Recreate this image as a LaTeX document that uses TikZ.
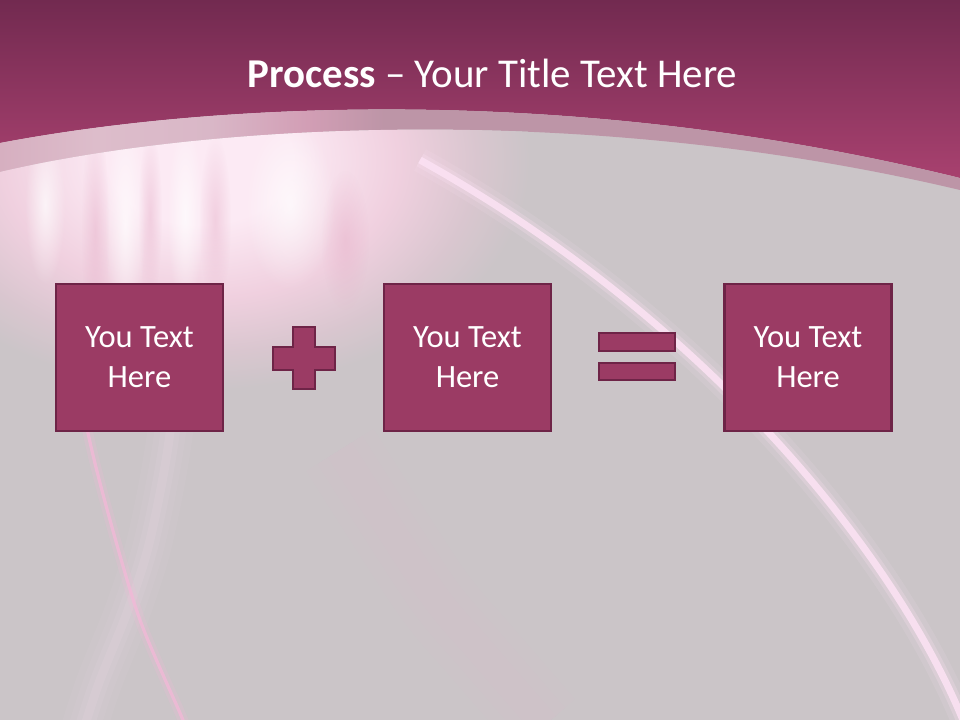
\documentclass[tikz,border=0pt]{standalone}
\usepackage{fontspec}
\setmainfont{Carlito}
\usetikzlibrary{fadings}
\definecolor{bandtop}{HTML}{722A50}
\definecolor{bandbot}{HTML}{A8416F}
\definecolor{slide}{HTML}{CBC5C8}
\definecolor{boxfill}{HTML}{9B3B64}
\definecolor{boxline}{HTML}{6E2447}
\definecolor{streak}{HTML}{FCE2F4}
\definecolor{rose}{HTML}{F4B8D8}
\definecolor{blush}{HTML}{F0D0DF}
\definecolor{dusk}{HTML}{D9C6CF}
\definecolor{shine}{HTML}{FCEAF4}
\definecolor{pinkray}{HTML}{E6AFC8}
\definecolor{stripa}{HTML}{D6AFC0}
\definecolor{stripb}{HTML}{DDBDCB}
\definecolor{stripc}{HTML}{D9B7C7}
\definecolor{stripd}{HTML}{D29EB5}
\definecolor{stripe}{HTML}{BD95A7}
\pgfdeclareradialshading{glowshade}{\pgfpoint{0bp}{0bp}}{color(0bp)=(shine);
  color(7bp)=(shine); color(15bp)=(blush); color(21bp)=(dusk); color(25bp)=(slide);
  color(50bp)=(slide)}
\pgfdeclarehorizontalshading{stripshade}{100bp}{color(0bp)=(stripa);
  color(25bp)=(stripa); color(30bp)=(stripb); color(36bp)=(stripc);
  color(41bp)=(stripd); color(45bp)=(stripe); color(100bp)=(stripe)}
\tikzfading[name=soft,inner color=transparent!0,outer color=transparent!100]

\begin{document}
\begin{tikzpicture}[x=0.2mm,y=-0.2mm,
  textbox/.style={draw=boxline,fill=boxfill,line width=1.4pt,
    minimum width=3.34cm,minimum height=2.94cm,inner sep=0pt,
    text=white,align=center,font=\fontsize{18.5}{22.8}\selectfont},
  eqbar/.style={draw=boxline,fill=boxfill,line width=1.4pt,
    minimum width=1.51cm,minimum height=0.35cm,inner sep=0pt},
  sign/.style={draw=boxline,fill=boxfill,line width=1.4pt}]
\useasboundingbox (0,0) rectangle (960,720);
\fill[slide] (0,0) rectangle (960,720);
\shade[top color=bandtop,bottom color=bandbot]
  (0,0) -- (960,0) -- (960,178) .. controls (560,80) and (200,105) .. (0,143) -- cycle;
\shade[shading=stripshade]
  (0,143) .. controls (200,105) and (560,80) .. (960,178)
  -- (960,190) .. controls (580,100) and (200,125) .. (0,172) -- cycle;
\begin{scope}
  \clip (960,190) .. controls (580,100) and (200,125) .. (0,172) -- (0,720) -- (960,720) -- cycle;
  \shade[shading=glowshade] (200,160) ellipse (330 and 230);
  \foreach \cx/\cy/\rx/\ry in {95/230/14/110,150/215/12/85,215/220/16/85,345/240/24/70}
    \fill[pinkray,opacity=.45,path fading=soft] (\cx,\cy) ellipse ({\rx} and {\ry});
  \foreach \cx/\cy/\rx/\ry in {125/225/20/115,185/215/18/95,290/205/45/85,45/205/20/80}
    \fill[white,opacity=.7,path fading=soft] (\cx,\cy) ellipse ({\rx} and {\ry});
\end{scope}
\foreach \w/\o in {26/.05,18/.06,11/.08,5/.1}
  \draw[streak,opacity=\o,line width=\w pt,line cap=round]
    plot[smooth] coordinates {(180,300) (170,433) (150,540) (128,610) (100,680) (85,725)};
\foreach \w/\o in {45/.04,30/.04,16/.05}
  \draw[rose,opacity=\o,line width=\w pt]
    plot[smooth] coordinates {(340,450) (430,590) (480,650) (545,725)};
\foreach \w/\o in {6/.2,1.8/.75}
  \draw[rose,opacity=\o,line width=\w pt]
    plot[smooth] coordinates {(70,330) (88,433) (110,520) (140,620) (180,713) (185,725)};
\foreach \w/\o in {14/.12,8/.25,4/.85}
  \draw[streak,opacity=\o,line width=\w pt]
    (420,160) .. controls (690,310) and (890,540) .. (965,725);
\node[textbox] (first) at (139.5,357.5) {You Text\\Here};
\node[textbox] (second) at (467.5,357.5) {You Text\\Here};
\node[textbox] (result) at (808,357.5) {You Text\\Here};
\draw[sign] (293,327) -- (315,327) -- (315,347) -- (335,347) -- (335,370) -- (315,370)
  -- (315,389) -- (293,389) -- (293,370) -- (273,370) -- (273,347) -- (293,347) -- cycle;
\node[eqbar] (eqtop) at (637,342) {};
\node[eqbar] (eqbottom) at (637,371.5) {};
\node[text=white,anchor=base,font=\fontsize{23.3}{27}\selectfont] (title) at (492.5,88)
  {\textbf{Process} – Your Title Text Here};
\end{tikzpicture}
\end{document}
